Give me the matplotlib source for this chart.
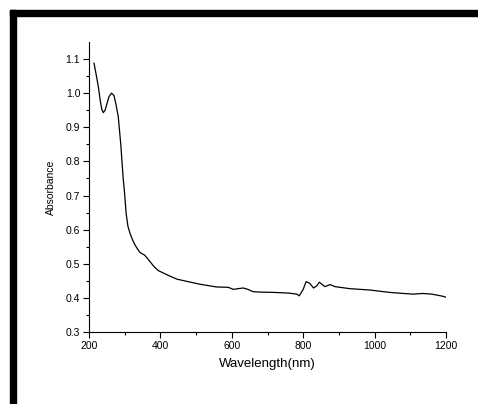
import numpy as np
import matplotlib
matplotlib.use("Agg")
import matplotlib.pyplot as plt
from matplotlib.patches import Rectangle

plt.rcParams['font.family'] = ['Liberation Sans', 'DejaVu Sans']

# absorbance spectrum
wavelength = [214, 220, 226, 232, 236, 240, 245, 250, 256, 263, 270, 276, 282, 289,
              296, 299, 304, 309, 315, 322, 329, 336, 343, 349, 355, 362,
              371, 382, 394, 420, 446, 480, 511, 557, 590, 604, 618, 632,
              645, 660, 679, 720, 760, 782, 789, 800, 808, 818, 829, 838,
              845, 852, 861, 868, 875, 889, 910, 931, 987, 1043, 1080, 1108,
              1136, 1160, 1178, 1190, 1200]
absorbance = [1.088, 1.055, 1.02, 0.975, 0.952, 0.943, 0.95, 0.968, 0.99, 1.0, 0.993, 0.965, 0.931, 0.85,
              0.746, 0.716, 0.648, 0.61, 0.589, 0.57, 0.555, 0.543, 0.533, 0.529, 0.526, 0.518,
              0.506, 0.492, 0.48, 0.467, 0.455, 0.447, 0.440, 0.432, 0.431, 0.425, 0.427, 0.429,
              0.425, 0.418, 0.417, 0.416, 0.414, 0.411, 0.406, 0.425, 0.4475, 0.443, 0.429, 0.435,
              0.446, 0.440, 0.433, 0.436, 0.439, 0.433, 0.430, 0.427, 0.423, 0.416, 0.413, 0.411,
              0.413, 0.411, 0.4075, 0.405, 0.402]

fig = plt.figure(figsize=(4.78, 4.04), dpi=100)
ax = fig.add_axes([89/478, 1-332/404, (446-89)/478, (332-42)/404])

ax.plot(wavelength, absorbance, color='black', lw=0.9)

ax.set_xlim(200, 1200)
ax.set_ylim(0.3, 1.15)
ax.set_xticks(np.arange(200, 1201, 200))
ax.set_xticks(np.arange(300, 1200, 200), minor=True)
ax.set_yticks(np.arange(0.3, 1.11, 0.1))
ax.set_yticks(np.arange(0.35, 1.15, 0.1), minor=True)
ax.set_yticklabels(['%.1f' % v for v in np.arange(0.3, 1.11, 0.1)])

for s in ['top', 'right']:
    ax.spines[s].set_visible(False)
for s in ['left', 'bottom']:
    ax.spines[s].set_linewidth(0.8)

ax.tick_params(which='major', direction='out', length=4.3, width=0.8, labelsize=7.5, pad=2)
ax.tick_params(which='minor', direction='out', length=2.2, width=0.8)

ax.set_xlabel('Wavelength(nm)', fontsize=9.5, labelpad=5)
ax.set_ylabel('Absorbance', fontsize=7.5, labelpad=7)

# thick L-shaped frame at top and left
fig.patches.append(Rectangle((10/478, 0), 6/478, 1-10/404, transform=fig.transFigure,
                             color='black', zorder=5))
fig.patches.append(Rectangle((10/478, 1-16/404), 1-10/478, 6/404, transform=fig.transFigure,
                             color='black', zorder=5))

fig.savefig('out.png', dpi=100)
